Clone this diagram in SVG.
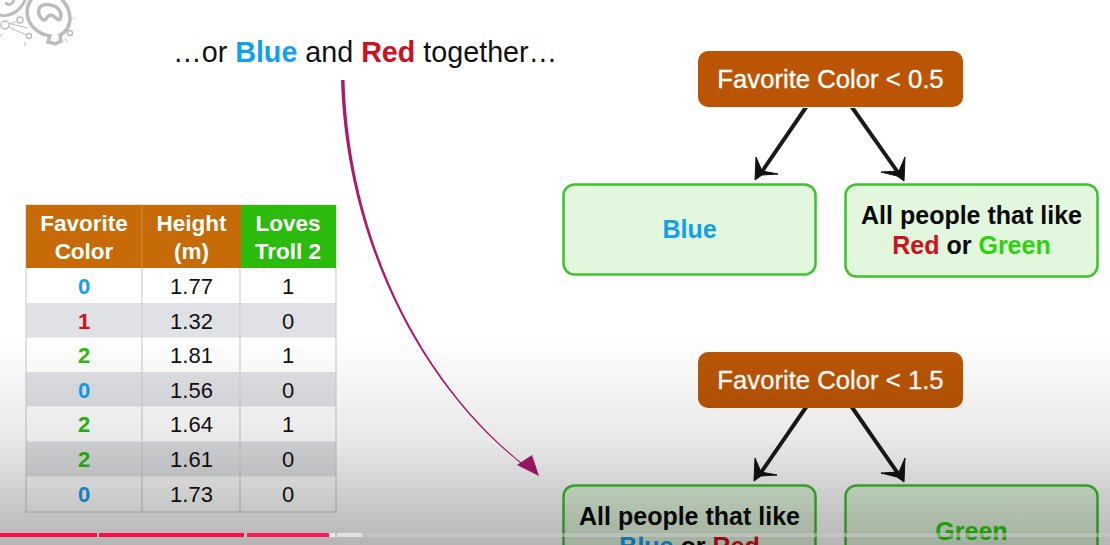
<svg xmlns="http://www.w3.org/2000/svg" width="1110" height="545" viewBox="0 0 1110 545">
<style>
text{font-family:"Liberation Sans",Arial,sans-serif}
.t{font-size:28.700px;fill:#111}
.b{font-weight:bold}
.hd{font-size:22.500px;font-weight:bold;fill:#fff;text-anchor:middle}
.c{font-size:22px;fill:#111;text-anchor:middle}
.cb{font-size:22px;font-weight:bold;text-anchor:middle}
.blue{fill:#12a0ee}.red{fill:#d0101c}.green{fill:#2bbb0c}
.root{fill:#bb5504}
.rl{font-size:25.700px;fill:#fff;stroke:#fff;stroke-width:0.35;text-anchor:middle}
.leaf{fill:#e2f7de;stroke:#3ec22e;stroke-width:2.500}
.ll{font-size:25px;font-weight:bold;fill:#0a0a0a;text-anchor:middle}
.shaft{fill:#1a1a1a}
.ah{fill:#111;stroke:#111;stroke-width:1;stroke-linejoin:round}
.grid{stroke:#cfd0d2;stroke-width:1.200;fill:none}
.hl{stroke:#fff;stroke-opacity:0.25;stroke-width:1;fill:none}
.logo{fill:none;stroke:#bcbcbc;stroke-linecap:round}
</style>
<defs>
<linearGradient id="fade" x1="0" y1="0" x2="0" y2="1">
<stop offset="0" stop-color="#000" stop-opacity="0"/>
<stop offset="0.5" stop-color="#000" stop-opacity="0.09"/>
<stop offset="1" stop-color="#000" stop-opacity="0.29"/>
</linearGradient>
</defs>
<rect width="1110" height="545" fill="#fff"/>
<g id="logo">
<path class="logo" stroke-width="3.500" d="M31 0C25 9 26 20 34 28C38 32 44 35 50 36L48 42L55 44L61 41L60 35C68 31 72 22 69 12C68 7 65 3 62 0"/>
<path class="logo" stroke-width="3.500" d="M39 14C37 7 43 3 50 5C58 6 63 12 60 19C58 22 55 15 50 15C46 16 47 21 44 20C41 19 40 17 39 14Z"/>
<path class="logo" stroke-width="3" d="M0 15C10 18 21 10 25 0"/>
<path class="logo" stroke-width="2.500" d="M6 3C8 6 12 5 14 0"/>
<circle class="logo" stroke-width="1.400" cx="5" cy="25" r="4"/>
<circle class="logo" stroke-width="1.400" cx="20" cy="20" r="3"/>
<circle class="logo" stroke-width="1.400" cx="29" cy="36" r="2.500"/>
<circle class="logo" stroke-width="1.400" cx="70" cy="33" r="2.500"/>
<path class="logo" stroke-width="1" d="M10 24L18 21M11 24L28 28M9 27L26 35M25 42V46M65 39L67 42M0 37L2 34M73 18L74 19"/>
</g>
<text id="title" class="t" x="173" y="61.500">…or <tspan class="b" fill="#12a0ee">Blue</tspan> and <tspan class="b" fill="#d0101c">Red</tspan> together…</text>
<g id="table">
<rect x="26" y="303" width="310" height="34.500" fill="#e0e1e5"/>
<rect x="26" y="372" width="310" height="34.500" fill="#e0e1e4"/>
<rect x="26" y="441.500" width="310" height="35" fill="#e0e1e4"/>
<path class="grid" d="M26 205H336V512H26ZM142 205V512M240 205V512"/>
<rect x="26" y="205" width="215" height="63" fill="#c76b08"/>
<rect x="241" y="205" width="95" height="63" fill="#2bbb0c"/>
<path class="hl" d="M142 205V268"/>
<text class="hd" x="84" y="231">Favorite</text><text class="hd" x="84" y="259">Color</text>
<text class="hd" x="191.500" y="231">Height</text><text class="hd" x="191.500" y="259">(m)</text>
<text class="hd" x="288" y="231">Loves</text><text class="hd" x="288" y="259">Troll 2</text>
<text class="cb blue" x="84" y="294">0</text><text class="c" x="191.500" y="294">1.77</text><text class="c" x="288" y="294">1</text>
<text class="cb red" x="84" y="329">1</text><text class="c" x="191.500" y="329">1.32</text><text class="c" x="288" y="329">0</text>
<text class="cb green" x="84" y="363">2</text><text class="c" x="191.500" y="363">1.81</text><text class="c" x="288" y="363">1</text>
<text class="cb blue" x="84" y="398">0</text><text class="c" x="191.500" y="398">1.56</text><text class="c" x="288" y="398">0</text>
<text class="cb green" x="84" y="432">2</text><text class="c" x="191.500" y="432">1.64</text><text class="c" x="288" y="432">1</text>
<text class="cb green" x="84" y="467">2</text><text class="c" x="191.500" y="467">1.61</text><text class="c" x="288" y="467">0</text>
<text class="cb blue" x="84" y="502">0</text><text class="c" x="191.500" y="502">1.73</text><text class="c" x="288" y="502">0</text>
</g>
<g id="connectors">
<path d="M341 80C346 240 420 385 524 466L524.800 465.200C421.500 384 349 240 344.500 80Z" fill="#ad1a6c"/>
<path d="M539 476L517 465L532 455Z" fill="#ad1a6c"/>
<path class="shaft" d="M803 108L808 108L764 172L760 171Z"/>
<path class="ah" d="M755 180L756 157L762 171L778 174L762 175Z"/>
<path class="shaft" d="M850 108L855 108L900 172L896 173Z"/>
<path class="ah" d="M904 181L905 157L899 171L881 172L897 176Z"/>
<path class="shaft" d="M803 408L808 408L763 473L759 472Z"/>
<path class="ah" d="M754 481L755 458L761 472L777 475L761 476Z"/>
<path class="shaft" d="M850 408L855 408L900 473L896 474Z"/>
<path class="ah" d="M904 482L905 458L899 472L881 473L897 477Z"/>
</g>
<g id="root1"><rect class="root" x="698" y="51" width="265" height="56" rx="10"/><text class="rl" x="830.500" y="88">Favorite Color &lt; 0.5</text></g>
<g id="leaf-blue"><rect class="leaf" x="563.500" y="184.500" width="252" height="90" rx="11"/><text class="ll" x="689.500" y="238" style="fill:#12a0ee">Blue</text></g>
<g id="leaf-redgreen"><rect class="leaf" x="845.500" y="184.500" width="252" height="92" rx="11"/><text class="ll" x="971.500" y="224">All people that like</text><text class="ll" x="971.500" y="254"><tspan style="fill:#d0101c">Red</tspan> or <tspan style="fill:#2bd40c">Green</tspan></text></g>
<g id="root2"><rect class="root" x="698" y="352" width="265" height="56" rx="10"/><text class="rl" x="830.500" y="389">Favorite Color &lt; 1.5</text></g>
<g id="leaf-bluered"><rect class="leaf" x="563.500" y="485.500" width="252" height="92" rx="11"/><text class="ll" x="689.500" y="525">All people that like</text><text class="ll" x="689.500" y="555"><tspan style="fill:#12a0ee">Blue</tspan> or <tspan style="fill:#d0101c">Red</tspan></text></g>
<g id="leaf-green"><rect class="leaf" x="845.500" y="485.500" width="252" height="92" rx="11"/><text class="ll" x="971.500" y="540" style="fill:#2bd40c">Green</text></g>
<rect id="fade-overlay" x="0" y="335" width="1110" height="210" fill="url(#fade)"/>
<g id="progress">
<rect x="0" y="533" width="1110" height="4" fill="#c8c8c8" fill-opacity="0.55"/>
<rect x="337" y="533" width="25" height="4" fill="#e2e2e2"/>
<rect x="0" y="533" width="97" height="4" fill="#ff0a45"/>
<rect x="99" y="533" width="145" height="4" fill="#ff0a45"/>
<rect x="247" y="533" width="82" height="4" fill="#ff1a55"/>
<rect x="329" y="533" width="6" height="4" fill="#eeeeee"/>
</g>
</svg>
